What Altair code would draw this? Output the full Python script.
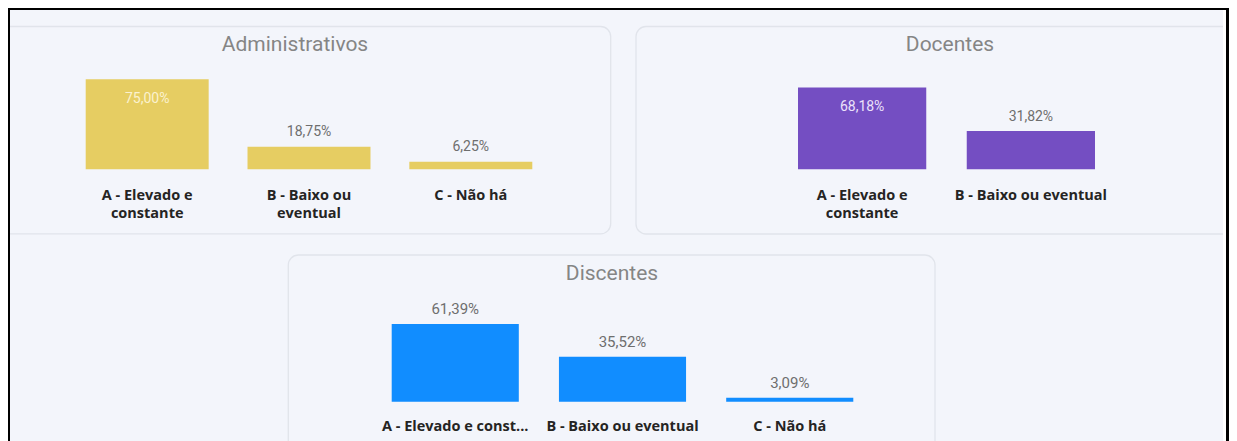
import altair as alt
import pandas as pd

# ---------------- data ----------------
categories = ["A - Elevado e constante", "B - Baixo ou eventual", "C - Não há"]

adm_values = [75.00, 18.75, 6.25]
doc_values = [68.18, 31.82]
dis_values = [61.39, 35.52, 3.09]

adm_ticks = ["A - Elevado e\nconstante", "B - Baixo ou\neventual", "C - Não há"]
doc_ticks = ["A - Elevado e\nconstante", "B - Baixo ou eventual"]
dis_ticks = ["A - Elevado e const...", "B - Baixo ou eventual", "C - Não há"]

titles = ["Administrativos", "Docentes", "Discentes"]

# ---------------- layout / style ----------------
W, H = 1221, 433
BG = "#f3f5fb"
BORDER = "#e1e4eb"


def fmt(v):
    return f"{v:.2f}".replace(".", ",") + "%"


def one():
    return alt.Chart(pd.DataFrame({"k": [0]}))


def box(x0, x1, y0, y1, fill, stroke=None, radius=0, sw=0):
    kw = dict(fill=fill, cornerRadius=radius)
    if stroke:
        kw.update(stroke=stroke, strokeWidth=sw)
    return one().mark_rect(**kw).encode(
        x=alt.value(x0), x2=alt.value(x1), y=alt.value(y0), y2=alt.value(y1)
    )


def title(text, cx, cy):
    return alt.Chart(pd.DataFrame({"t": [text]})).mark_text(
        font="Roboto", fontSize=21, color="#858585", baseline="middle", align="center"
    ).encode(x=alt.value(cx), y=alt.value(cy), text="t:N")


def panel(values, ticks, colour, inside_colour, inside_flags, x_range, y_range,
          tick_y, vfont, tfont):
    cats = categories[:len(values)]
    df = pd.DataFrame({
        "cat": cats,
        "value": values,
        "tick": ticks,
        "lbl": [fmt(v) for v in values],
        "inside": inside_flags,
    })
    xs = alt.X("cat:N", axis=None, sort=cats,
               scale=alt.Scale(domain=cats, range=x_range,
                               paddingInner=0.24, paddingOuter=0))
    ys = alt.Y("value:Q", axis=None,
               scale=alt.Scale(domain=[0, 100], range=y_range, nice=False, zero=True))
    base = alt.Chart(df)
    bars = base.mark_bar(color=colour).encode(x=xs, y=ys)
    above = base.transform_filter("!datum.inside").mark_text(
        font="Roboto", fontSize=vfont, color="#6e6e6e", baseline="middle", dy=-14.5
    ).encode(x=xs, y=ys, text="lbl:N")
    inside = base.transform_filter("datum.inside").mark_text(
        font="Roboto", fontSize=vfont, color=inside_colour, baseline="middle", dy=20
    ).encode(x=xs, y=ys, text="lbl:N")
    tick_layer = base.mark_text(
        font="Open Sans", fontWeight="bold", fontSize=tfont, color="#252423",
        baseline="top", lineBreak="\n", lineHeight=18.3
    ).encode(x=xs, y=alt.value(tick_y), text="tick:N")
    return alt.layer(bars, above, inside, tick_layer)


p_adm = panel(adm_values, adm_ticks, "#e6cd62", "#fbf2cf", [True, False, False],
              [77.7, 524.3], [161.3, 41.3], 181.2, 14, 14.5)
p_doc = panel(doc_values, doc_ticks, "#744ec2", "#ece2fb", [True, False],
              [790, 1087], [161.3, 41.3], 181.2, 14, 14.5)
p_dis = panel(dis_values, dis_ticks, "#118dff", "#ffffff", [False, False, False],
              [383.7, 845.3], [393.7, 267.1], 412.4, 15, 14.5)

decor = [
    box(-30, 602.7, 18.5, 225.8, BG, BORDER, 10, 1.3),
    box(628, 1270, 18.5, 226, BG, BORDER, 10, 1.3),
    box(280.3, 927, 247, 470, BG, BORDER, 10, 1.3),
    box(1215, W, 0, H, "#ffffff"),
    title(titles[0], 287, 37),
    title(titles[1], 942, 37),
    title(titles[2], 604, 265.5),
]
frame = [
    box(0, 2, 0, H, "#000000"),
    box(0, W, 0, 2, "#000000"),
    box(W - 3, W, 0, H, "#000000"),
]

chart = alt.layer(*decor, p_adm, p_doc, p_dis, *frame).resolve_scale(
    x="independent", y="independent"
).properties(
    width=W, height=H, padding=0, background=BG,
    autosize=alt.AutoSizeParams(type="none"),
).configure_view(strokeWidth=0)

chart.save("out.html", embed_options={"renderer": "svg", "actions": False})
